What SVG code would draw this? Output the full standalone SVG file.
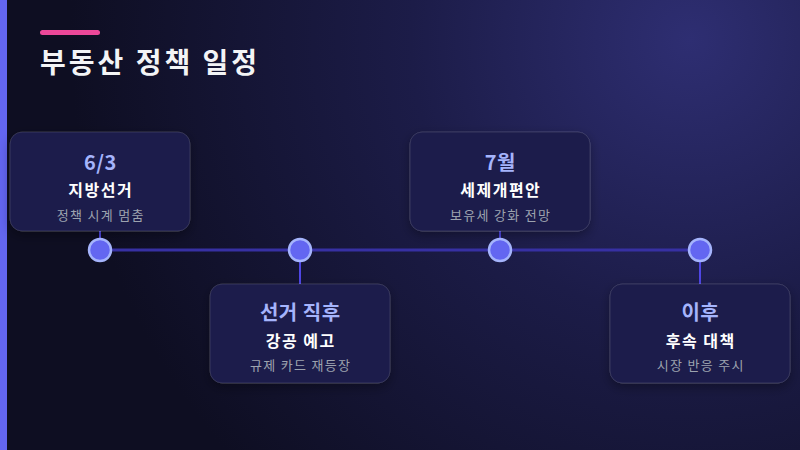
<svg xmlns="http://www.w3.org/2000/svg" width="800" height="450" viewBox="0 0 800 450">
<defs>
<radialGradient id="bg" cx="690" cy="40" r="620" gradientUnits="userSpaceOnUse">
<stop offset="0" stop-color="#2e2e72"/>
<stop offset="0.45" stop-color="#1c1c48"/>
<stop offset="1" stop-color="#0e0e22"/>
</radialGradient>
<filter id="sh" x="-20%" y="-20%" width="140%" height="150%">
<feDropShadow dx="0" dy="4" stdDeviation="6" flood-color="#000" flood-opacity="0.35"/>
</filter>
<style>
.card{fill:#1e1e4b;stroke:#ffffff;stroke-opacity:0.12;stroke-width:1;filter:url(#sh)}
.t1{font-family:"Noto Sans CJK KR","Noto Sans",sans-serif;font-size:20px;font-weight:700;fill:#a5b4fc;text-anchor:middle;letter-spacing:0.5px}
.t2{font-family:"Noto Sans CJK KR","Noto Sans",sans-serif;font-size:16px;font-weight:700;fill:#ffffff;text-anchor:middle;letter-spacing:1.5px}
.t3{font-family:"Noto Sans CJK KR","Noto Sans",sans-serif;font-size:13px;fill:#9ca3af;text-anchor:middle;letter-spacing:1.3px}
.dot{fill:#6366f1;stroke:#a5b4fc;stroke-width:2.5}
.stem{stroke:#4f46e5;stroke-width:2}
</style>
</defs>
<rect width="800" height="450" fill="url(#bg)"/>
<rect x="0" y="0" width="7" height="450" fill="#6366f1"/>
<rect x="40" y="30" width="60" height="5" rx="2.5" fill="#ec4899"/>
<text x="40" y="73" font-family="'Noto Sans CJK KR','Noto Sans',sans-serif" font-size="28" font-weight="700" fill="#f3f4f6" letter-spacing="3">부동산 정책 일정</text>
<g id="connectors">
<line x1="100" y1="250" x2="700" y2="250" stroke="#3730a3" stroke-width="3"/>
<line class="stem" x1="100" y1="231" x2="100" y2="250"/>
<line class="stem" x1="300" y1="250" x2="300" y2="284"/>
<line class="stem" x1="500" y1="231" x2="500" y2="250"/>
<line class="stem" x1="700" y1="250" x2="700" y2="284"/>
</g>
<g id="node1">
<rect class="card" x="10" y="132" width="180" height="99" rx="12"/>
<text class="t1" x="100.3" y="170">6/3</text>
<text class="t2" x="100.8" y="196">지방선거</text>
<text class="t3" x="100.7" y="220">정책 시계 멈춤</text>
<circle class="dot" cx="100" cy="250" r="11"/>
</g>
<g id="node2">
<rect class="card" x="210" y="284" width="180" height="99" rx="12"/>
<text class="t1" x="300.3" y="320">선거 직후</text>
<text class="t2" x="300.8" y="347">강공 예고</text>
<text class="t3" x="300.7" y="370">규제 카드 재등장</text>
<circle class="dot" cx="300" cy="250" r="11"/>
</g>
<g id="node3">
<rect class="card" x="410" y="132" width="180" height="99" rx="12"/>
<text class="t1" x="500.3" y="170">7월</text>
<text class="t2" x="500.8" y="196">세제개편안</text>
<text class="t3" x="500.7" y="220">보유세 강화 전망</text>
<circle class="dot" cx="500" cy="250" r="11"/>
</g>
<g id="node4">
<rect class="card" x="610" y="284" width="180" height="99" rx="12"/>
<text class="t1" x="700.3" y="320">이후</text>
<text class="t2" x="700.8" y="347">후속 대책</text>
<text class="t3" x="700.7" y="370">시장 반응 주시</text>
<circle class="dot" cx="700" cy="250" r="11"/>
</g>
</svg>
